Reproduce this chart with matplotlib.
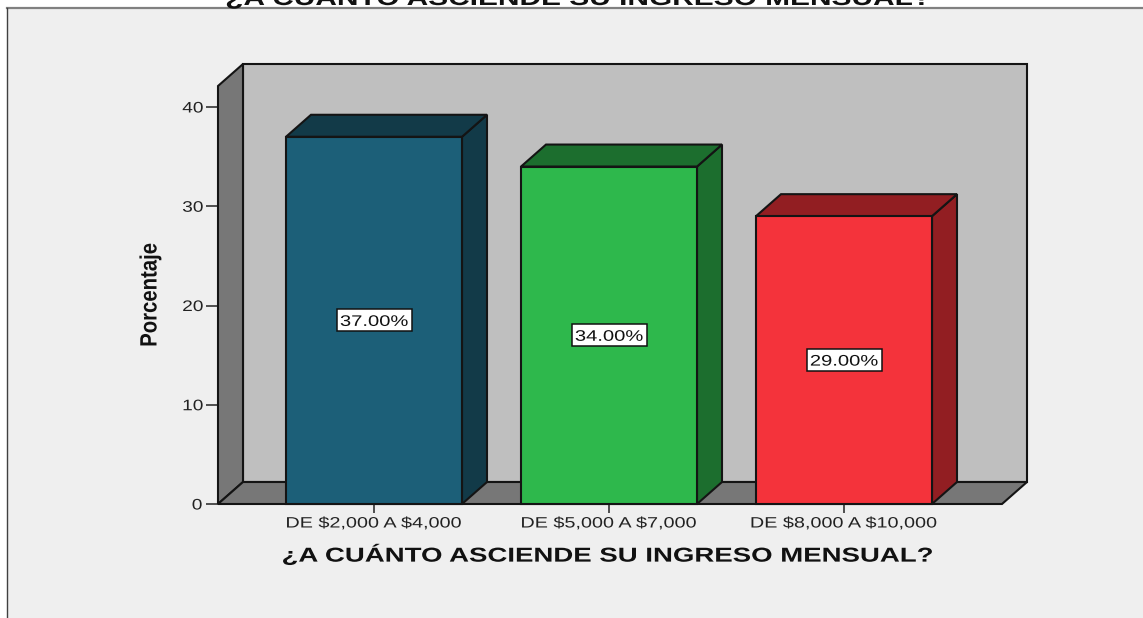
import matplotlib
matplotlib.use("Agg")
import matplotlib.pyplot as plt
from matplotlib.patches import Polygon, Rectangle
from matplotlib.patheffects import AbstractPathEffect
from matplotlib.transforms import Affine2D

categories = ["DE $2,000 A $4,000", "DE $5,000 A $7,000", "DE $8,000 A $10,000"]
values = [37.0, 34.0, 29.0]
y_ticks = [0, 10, 20, 30, 40]
front_colors = ["#1C5F78", "#2EB84C", "#F4333B"]
side_colors = ["#123A48", "#1C6E2E", "#921E22"]
title = "¿A CUÁNTO ASCIENDE SU INGRESO MENSUAL?"
y_label = "Porcentaje"


class Stretch(AbstractPathEffect):
    """Draws a real text stretched along its own direction, about its centre."""

    def __init__(self, sx):
        super().__init__()
        self.sx = sx

    def draw_path(self, renderer, gc, tpath, affine, rgbFace=None):
        e = tpath.get_extents()
        c = (e.x0 + e.x1) / 2
        t = Affine2D().translate(-c, 0).scale(self.sx, 1).translate(c, 0) + affine
        renderer.draw_path(gc, tpath, t, rgbFace)


W, H = 1143, 618
plt.rcParams["font.family"] = ["Liberation Sans", "DejaVu Sans"]
fig = plt.figure(figsize=(W / 100, H / 100), dpi=100, facecolor="white")

bg = fig.add_axes([0, 0, 1, 1], zorder=0)
bg.set_xlim(0, W); bg.set_ylim(H, 0); bg.axis("off")
bg.add_patch(Rectangle((7, 8), W - 7, H - 8, facecolor="#EFEFEF", edgecolor="none"))
bg.plot([7, W], [8, 8], color="#808080", lw=1.6)
bg.plot([7, 7], [H, 8], color="#404040", lw=1.0)

L, R, B, T = 218, 1002, 504, 86
ax = fig.add_axes([L / W, 1 - B / H, (R - L) / W, (B - T) / H], zorder=1)
step = 235.0
unit = 9.925
ax.set_xlim((L - 374) / step, (R - 374) / step)
ax.set_ylim(0, (B - T) / unit)
ax.patch.set_alpha(0)
for s in ax.spines.values():
    s.set_visible(False)

dx = 25 / step
dy = 22 / unit
x0, x1 = ax.get_xlim()
y0, y1 = ax.get_ylim()
edge = "#141414"
lw = 1.5


def poly(pts, fc, z):
    ax.add_patch(Polygon(pts, closed=True, facecolor=fc, edgecolor=edge, lw=lw,
                         joinstyle="miter", clip_on=False, zorder=z))


poly([(x0 + dx, y0 + dy), (x1 + dx, y0 + dy), (x1 + dx, y1 + dy), (x0 + dx, y1 + dy)], "#BFBFBF", 1)
poly([(x0, y0), (x0 + dx, y0 + dy), (x0 + dx, y1 + dy), (x0, y1)], "#777777", 2)
poly([(x0, y0), (x1, y0), (x1 + dx, y0 + dy), (x0 + dx, y0 + dy)], "#777777", 2)

bw = 176 / step
box_w, box_h = 75 / step, 22 / unit
for i, (v, fc, sc) in enumerate(zip(values, front_colors, side_colors)):
    l, r = i - bw / 2, i + bw / 2
    poly([(r, 0), (r + dx, dy), (r + dx, v + dy), (r, v)], sc, 3)
    poly([(l, v), (r, v), (r + dx, v + dy), (l + dx, v + dy)], sc, 3)
    poly([(l, 0), (r, 0), (r, v), (l, v)], fc, 4)
    ax.add_patch(Rectangle((i - box_w / 2, v / 2 - box_h / 2), box_w, box_h, facecolor="white",
                           edgecolor="#111111", lw=1.1, zorder=5))
    ax.text(i, v / 2, f"{v:.2f}%", ha="center", va="center_baseline", fontsize=11, color="#111111",
            zorder=6, path_effects=[Stretch(1.32)])

ax.set_xticks(range(len(categories)))
ax.set_xticklabels(categories, fontsize=10.8, color="#222222", parse_math=False,
                   path_effects=[Stretch(1.32)])
ax.set_yticks(y_ticks)
ax.set_yticklabels([str(t) for t in y_ticks], fontsize=11, color="#222222",
                   path_effects=[Stretch(1.25)])
ax.tick_params(axis="x", length=6.5, width=1.2, color="#333333", pad=2.5)
ax.tick_params(axis="y", length=9, width=1.2, color="#333333", pad=3)

bg.text(608, 555, title, ha="center", va="center", fontsize=14.5, fontweight="bold", color="#111111",
        path_effects=[Stretch(1.37)])
bg.text(578, 5, title, ha="center", va="baseline", fontsize=15.7, fontweight="bold", color="#111111",
        path_effects=[Stretch(1.37)])
bg.text(150, 295, y_label, ha="center", va="center", rotation=90, fontsize=17, fontweight="bold",
        color="#111111", path_effects=[Stretch(0.86)])

fig.savefig("out.png", dpi=100, facecolor="white")
